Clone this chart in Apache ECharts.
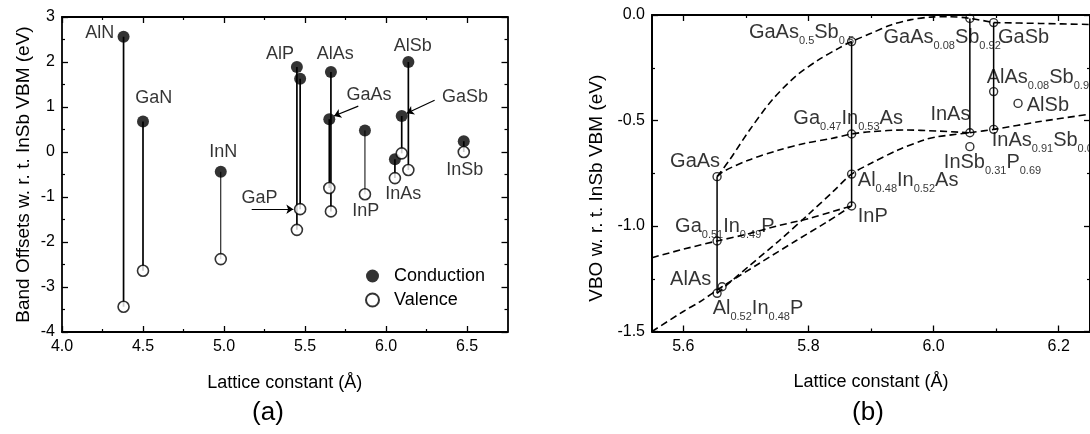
<!DOCTYPE html>
<html>
<head>
<meta charset="utf-8">
<script src="https://cdn.jsdelivr.net/npm/echarts@6/dist/echarts.min.js"></script>
<style>
  html, body { margin: 0; padding: 0; background: #fff; }
  #main { width: 1090px; height: 434px; }
</style>
</head>
<body>
<div id="main"></div>
<script>
// ---- panel (a): binaries, band edges w.r.t. InSb VBM ----
const materials = ['AlN', 'GaN', 'InN', 'AlP', 'GaP', 'AlAs', 'GaAs', 'InP', 'InAs', 'GaSb', 'AlSb', 'InSb'];
const latticeA = [4.38, 4.50, 4.98, 5.45, 5.47, 5.66, 5.65, 5.87, 6.055, 6.097, 6.138, 6.48];
const conduction = [2.56, 0.68, -0.44, 1.89, 1.63, 1.78, 0.73, 0.48, -0.16, 0.80, 2.00, 0.24];
const valence = [-3.44, -2.64, -2.38, -1.73, -1.27, -1.32, -0.80, -0.94, -0.58, -0.03, -0.40, 0.00];
const thinTies = ['InN', 'InP'];

const aXTicks = [4.0, 4.5, 5.0, 5.5, 6.0, 6.5];
const aXMinor = [4.25, 4.75, 5.25, 5.75, 6.25];

// text labels and arrows of (a), in data units
const labelsA = [
  ['AlN', 4.233, 2.65], ['GaN', 4.567, 1.19], ['InN', 4.996, -0.01], ['AlP', 5.346, 2.17],
  ['AlAs', 5.687, 2.17], ['GaAs', 5.896, 1.26], ['AlSb', 6.166, 2.36], ['GaSb', 6.488, 1.21],
  ['GaP', 5.22, -1.035], ['InP', 5.875, -1.31], ['InAs', 6.107, -0.94], ['InSb', 6.486, -0.40]
];
const arrowsA = [
  [[5.171, -1.273], [5.428, -1.273]],
  [[5.829, 1.02], [5.679, 0.80]],
  [[6.30, 1.15], [6.128, 0.86]]
];

// ---- panel (b): valence band offsets near 5.6-6.2 A ----
const bNames = ['GaAs', 'Ga0.51In0.49P', 'AlAs', 'Al0.52In0.48P', 'GaAs0.5Sb0.5', 'Ga0.47In0.53As',
  'Al0.48In0.52As', 'InP', 'GaAs0.08Sb0.92', 'InAs', 'InSb0.31P0.69', 'GaSb', 'AlAs0.08Sb0.92',
  'InAs0.91Sb0.09', 'AlSb'];
const bLattice = [5.654, 5.654, 5.654, 5.662, 5.869, 5.869, 5.869, 5.869, 6.058, 6.058, 6.058,
  6.096, 6.096, 6.096, 6.135];
const bVbo = [-0.766, -1.071, -1.319, -1.288, -0.126, -0.564, -0.754, -0.905, -0.016, -0.558,
  -0.624, -0.036, -0.363, -0.542, -0.419];
const bTies = [['GaAs', 'AlAs'], ['GaAs0.5Sb0.5', 'InP'], ['GaAs0.08Sb0.92', 'InAs'], ['GaSb', 'InAs0.91Sb0.09']];

// dashed alloy curves
const curveGaAsSb = [[5.654, -0.766], [5.674, -0.687], [5.706, -0.545], [5.742, -0.403], [5.779, -0.292],
  [5.816, -0.213], [5.848, -0.158], [5.869, -0.126], [5.900, -0.087], [5.932, -0.047], [5.964, -0.022],
  [5.995, -0.010], [6.025, -0.008], [6.058, -0.016], [6.096, -0.036]];
const curveGaInSb = [[6.096, -0.036], [6.17, -0.040], [6.25, -0.045]];
const curveGaInAs = [[5.654, -0.766], [5.663, -0.743], [5.705, -0.687], [5.753, -0.640], [5.795, -0.608],
  [5.837, -0.585], [5.869, -0.564], [5.900, -0.553], [5.953, -0.545], [6.006, -0.550], [6.058, -0.558]];
const curveInAsSb = [[6.058, -0.558], [6.096, -0.542], [6.17, -0.505], [6.25, -0.470]];
const curveAlInAs = [[5.654, -1.319], [5.705, -1.19], [5.753, -1.07], [5.80, -0.945], [5.84, -0.835],
  [5.869, -0.754], [5.900, -0.703], [5.943, -0.640], [5.985, -0.592], [6.006, -0.577], [6.058, -0.558]];
const curveAlInP = [[5.55, -1.50], [5.60, -1.405], [5.626, -1.36], [5.662, -1.288], [5.72, -1.18],
  [5.78, -1.07], [5.83, -0.98], [5.869, -0.905]];
const curveGaInP = [[5.55, -1.15], [5.60, -1.11], [5.654, -1.071], [5.70, -1.04], [5.75, -1.00],
  [5.80, -0.965], [5.84, -0.93], [5.869, -0.905]];

const bXTicks = [5.6, 5.8, 6.0, 6.2];
const bXMinor = [5.7, 5.9, 6.1];

// text labels of (b): left edge, middle of main text
const labelsB = [
  ['GaAs{s|0.5}Sb{s|0.5}', 5.705, -0.083],
  ['GaAs{s|0.08}Sb{s|0.92}', 5.920, -0.107],
  ['GaSb', 6.103, -0.108],
  ['AlAs{s|0.08}Sb{s|0.92}', 6.085, -0.296],
  ['AlSb', 6.149, -0.427],
  ['InAs', 5.995, -0.472],
  ['InAs{s|0.91}Sb{s|0.09}', 6.093, -0.597],
  ['InSb{s|0.31}P{s|0.69}', 6.0165, -0.697],
  ['Ga{s|0.47}In{s|0.53}As', 5.776, -0.491],
  ['Al{s|0.48}In{s|0.52}As', 5.879, -0.786],
  ['GaAs', 5.579, -0.695],
  ['InP', 5.879, -0.956],
  ['Ga{s|0.51}In{s|0.49}P', 5.587, -1.003],
  ['AlAs', 5.579, -1.256],
  ['Al{s|0.52}In{s|0.48}P', 5.647, -1.39]
];

const ink = '#000';
const font = 'Liberation Sans, Arial, sans-serif';

let chart = echarts.init(document.getElementById('main'), null, { renderer: 'canvas' });

function tieItems(names, xs, tops, bottoms) {
  return names.map((n, i) => [xs[i], tops[i], bottoms[i], thinTies.indexOf(n) >= 0 ? 1 : 1.7]);
}

const bIndex = n => bNames.indexOf(n);
const bTieData = bTies.map(t => [bLattice[bIndex(t[0])], bVbo[bIndex(t[0])], bVbo[bIndex(t[1])], 1.5]);

function renderTie(params, api) {
  const p1 = api.coord([api.value(0), api.value(1)]);
  const p2 = api.coord([api.value(0), api.value(2)]);
  return {
    type: 'line',
    shape: { x1: p1[0], y1: p1[1], x2: p2[0], y2: p2[1] },
    style: { stroke: ink, lineWidth: api.value(3) }
  };
}

// x axes with hand placed ticks (major + minor), bottom and top
function xAxes(grid, min, max, majors, minors, lw) {
  const base = { type: 'value', gridIndex: grid, min: min, max: max, splitLine: { show: false } };
  const line = { show: true, onZero: false, lineStyle: { color: ink, width: lw } };
  const noLine = { show: false, onZero: false };
  const fmt = v => v.toFixed(1);
  return [
    Object.assign({}, base, {
      position: 'bottom', axisLine: line,
      axisTick: { inside: true, length: 6, customValues: majors, lineStyle: { color: ink, width: 1.3 } },
      axisLabel: { customValues: majors, formatter: fmt, margin: 7, fontFamily: font, fontSize: 16, color: ink }
    }),
    Object.assign({}, base, {
      position: 'bottom', axisLine: noLine, axisLabel: { show: false },
      axisTick: { inside: true, length: 3, customValues: minors, lineStyle: { color: ink, width: 1.2 } }
    }),
    Object.assign({}, base, {
      position: 'top', axisLine: line, axisLabel: { show: false },
      axisTick: { inside: true, length: 6, customValues: majors, lineStyle: { color: ink, width: 1.3 } }
    }),
    Object.assign({}, base, {
      position: 'top', axisLine: noLine, axisLabel: { show: false },
      axisTick: { inside: true, length: 3, customValues: minors, lineStyle: { color: ink, width: 1.2 } }
    })
  ];
}

function yAxes(grid, min, max, interval, fmt, lw) {
  const base = {
    type: 'value', gridIndex: grid, min: min, max: max, interval: interval,
    splitLine: { show: false },
    axisLine: { show: true, onZero: false, lineStyle: { color: ink, width: lw } },
    axisTick: { inside: true, length: 6, lineStyle: { color: ink, width: 1.3 } },
    minorTick: { show: true, splitNumber: 2, length: 3, lineStyle: { color: ink, width: 1.2 } }
  };
  return [
    Object.assign({}, base, {
      position: 'left',
      axisLabel: { formatter: fmt, margin: 7, fontFamily: font, fontSize: 16, color: ink }
    }),
    Object.assign({}, base, { position: 'right', axisLabel: { show: false } })
  ];
}

const xs = xAxes(0, 4.0, 6.75, aXTicks, aXMinor, 1.8).concat(xAxes(1, 5.55, 6.25, bXTicks, bXMinor, 2));
xs[0].name = 'Lattice constant (Å)';
xs[4].name = 'Lattice constant (Å)';
[0, 4].forEach(i => {
  xs[i].nameLocation = 'middle';
  xs[i].nameGap = 42;
  xs[i].nameTextStyle = { fontFamily: font, fontSize: 18, color: ink };
});

const ys = yAxes(0, -4, 3, 1, v => String(v), 1.8).concat(yAxes(1, -1.5, 0, 0.5, v => v.toFixed(1), 2));
ys[0].name = 'Band Offsets w. r. t. InSb VBM (eV)';
ys[0].nameGap = 29;
ys[0].nameTextStyle = { fontFamily: font, fontSize: 19, color: ink };
ys[2].name = 'VBO w. r. t. InSb VBM (eV)';
ys[2].nameGap = 46;
ys[2].nameTextStyle = { fontFamily: font, fontSize: 19, color: ink, padding: [0, 30, 0, 0] };
[0, 2].forEach(i => { ys[i].nameLocation = 'middle'; });

const dashed = { color: ink, width: 1.6, type: [7, 4] };
function curve(data) {
  return {
    type: 'line', xAxisIndex: 4, yAxisIndex: 2, data: data, symbol: 'none', smooth: 0.3,
    lineStyle: dashed, silent: true, z: 2
  };
}

let option = {
  animation: false,
  backgroundColor: '#fff',
  grid: [
    { left: 62, top: 17, width: 445.5, height: 315 },
    { left: 652, top: 15, width: 443, height: 316.5 }
  ],
  legend: {
    data: ['Conduction', 'Valence'],
    orient: 'vertical',
    left: 360, top: 261,
    itemWidth: 13, itemHeight: 13, itemGap: 4,
    selectedMode: false,
    textStyle: { fontFamily: font, fontSize: 18, color: ink, lineHeight: 20, padding: [0, 0, 0, 10] }
  },
  xAxis: xs,
  yAxis: ys,
  graphic: [
    { type: 'text', x: 268, y: 413, style: { text: '(a)', font: '26px ' + font, fill: ink, align: 'center', verticalAlign: 'middle' } },
    { type: 'text', x: 868, y: 413, style: { text: '(b)', font: '26px ' + font, fill: ink, align: 'center', verticalAlign: 'middle' } }
  ],
  series: [
    // (a) ties between band edges
    {
      type: 'custom', xAxisIndex: 0, yAxisIndex: 0, renderItem: renderTie,
      encode: { x: 0, y: [1, 2] }, data: tieItems(materials, latticeA, conduction, valence), z: 2
    },
    {
      name: 'Conduction', type: 'scatter', xAxisIndex: 0, yAxisIndex: 0, symbol: 'circle', symbolSize: 12,
      itemStyle: { color: ink }, data: latticeA.map((x, i) => [x, conduction[i]]), z: 3
    },
    {
      name: 'Valence', type: 'scatter', xAxisIndex: 0, yAxisIndex: 0, symbol: 'circle', symbolSize: 11,
      itemStyle: { color: '#fff', borderColor: ink, borderWidth: 1.6 },
      data: latticeA.map((x, i) => [x, valence[i]]), z: 3
    },
    {
      type: 'lines', coordinateSystem: 'cartesian2d', xAxisIndex: 0, yAxisIndex: 0,
      symbol: ['none', 'arrow'], symbolSize: 7,
      lineStyle: { color: ink, width: 1.2, opacity: 1 },
      data: arrowsA.map(a => ({ coords: a })), z: 3
    },
    {
      type: 'scatter', xAxisIndex: 0, yAxisIndex: 0, symbolSize: 0.1, silent: true,
      itemStyle: { color: 'rgba(0,0,0,0)' },
      label: {
        show: true, position: [0, 0], align: 'center', verticalAlign: 'middle',
        formatter: p => p.name, fontFamily: font, fontSize: 18, color: ink
      },
      data: labelsA.map(l => ({ name: l[0], value: [l[1], l[2]] })), z: 4
    },

    // (b) dashed alloy curves
    curve(curveGaAsSb), curve(curveGaInSb), curve(curveGaInAs), curve(curveInAsSb),
    curve(curveAlInAs), curve(curveAlInP), curve(curveGaInP),
    {
      type: 'custom', xAxisIndex: 4, yAxisIndex: 2, renderItem: renderTie,
      encode: { x: 0, y: [1, 2] }, data: bTieData, z: 3
    },
    {
      type: 'scatter', xAxisIndex: 4, yAxisIndex: 2, symbol: 'circle', symbolSize: 8,
      itemStyle: { color: 'rgba(255,255,255,0)', borderColor: ink, borderWidth: 1.4 },
      data: bLattice.map((x, i) => [x, bVbo[i]]), z: 4
    },
    {
      type: 'scatter', xAxisIndex: 4, yAxisIndex: 2, symbolSize: 0.1, silent: true,
      itemStyle: { color: 'rgba(0,0,0,0)' },
      label: {
        show: true, position: [0, 0], align: 'left', verticalAlign: 'middle',
        formatter: p => p.name, fontFamily: font, fontSize: 20, color: ink,
        rich: { s: { fontFamily: font, fontSize: 11, color: ink, padding: [17, 0, 0, 0] } }
      },
      data: labelsB.map(l => ({ name: l[0], value: [l[1], l[2]] })), z: 5
    }
  ]
};

chart.setOption(option);
</script>
</body>
</html>
